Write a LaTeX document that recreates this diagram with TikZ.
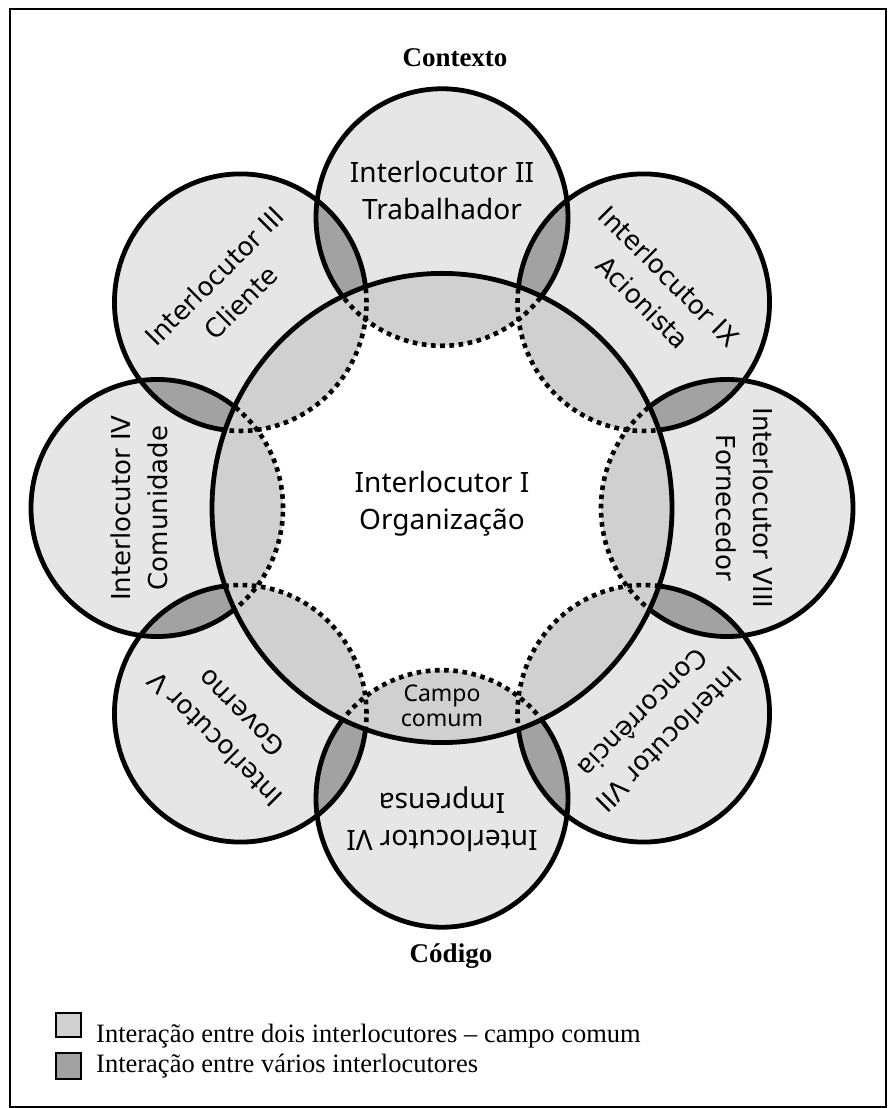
\documentclass[tikz,border=0pt]{standalone}
\usepackage{fontspec}
\setmainfont{Liberation Serif}
\newfontfamily\lblfont{Noto Sans}
\newfontfamily\widefont{DejaVu Sans}
\definecolor{outerfill}{HTML}{E6E6E6}
\definecolor{lensfill}{HTML}{D0D0D0}
\definecolor{darkfill}{HTML}{A2A2A2}
\begin{document}
\begin{tikzpicture}[x=1pt,y=1pt,
  ring/.style={line width=4.8pt},
  dotring/.style={line width=4.6pt, dash pattern=on 4.6pt off 4.6pt},
  lbl/.style={align=center, inner sep=0pt, font=\lblfont\fontsize{28}{37}\selectfont},
  lblw/.style={align=center, inner sep=0pt, font=\widefont\fontsize{26}{37}\selectfont},
  small/.style={align=center, inner sep=0pt, font=\lblfont\fontsize{23}{25}\selectfont},
  heading/.style={inner sep=0pt, anchor=base, font=\bfseries\fontsize{27}{30}\selectfont},
  legtext/.style={inner sep=0pt, anchor=base west, font=\fontsize{26.5}{30}\selectfont},
  legbox/.style={draw, line width=2.5pt}
]
\useasboundingbox (0,0) rectangle (887,1108);
\draw[line width=2pt] (10,1) rectangle (886,1099);

\begin{scope}[shift={(442,600)}, y=1.02pt]
  \def\R{230}
  \def\r{126}
  \def\d{285}
  % the eight partner circles
  \foreach \a in {0,45,...,315}
    \fill[outerfill] (\a:\d) circle[radius=\r];
  % overlaps of neighbouring partners
  \foreach \a in {0,45,...,315} {
    \begin{scope}
      \clip (\a:\d) circle[radius=\r];
      \fill[darkfill] (\a+45:\d) circle[radius=\r];
    \end{scope}
  }
  \foreach \a in {0,45,...,315}
    \draw[ring] (\a:\d) circle[radius=\r];
  % the organisation in the middle
  \fill[white] (0,0) circle[radius=\R];
  \begin{scope}
    \clip (0,0) circle[radius=\R];
    \foreach \a in {0,45,...,315}
      \fill[lensfill] (\a:\d) circle[radius=\r];
    \foreach \a in {0,45,...,315}
      \draw[dotring] (\a:\d) circle[radius=\r];
  \end{scope}
  \draw[ring] (0,0) circle[radius=\R];

  \node[lbl] (org) at (0,4) {Interlocutor I\\Organização};
  \node[small] (campo) at (0,-194) {Campo\\comum};
  \node[lbl, rotate=0]    (p2) at (90:\d+26)  {Interlocutor II\\Trabalhador};
  \node[lblw, rotate=45]  (p3) at (135:\d+18) {Interlocutor III\\Cliente};
  \node[lblw, rotate=90]  (p4) at (180:\d+18) {Interlocutor IV\\Comunidade};
  \node[lblw, rotate=135] (p5) at (225:\d+18) {Interlocutor V\\Governo};
  \node[lbl, rotate=180]  (p6) at (270:\d+20) {Interlocutor VI\\Imprensa};
  \node[lblw, rotate=225] (p7) at (315:\d+18) {Interlocutor VII\\Concorrência};
  \node[lblw, rotate=-90] (p8) at (0:\d+18)   {Interlocutor VIII\\Fornecedor};
  \node[lblw, rotate=-45] (p9) at (45:\d+18)  {Interlocutor IX\\Acionista};
\end{scope}

\node[heading] (ctx) at (455,1041) {Contexto};
\node[heading] (cod) at (451,145) {Código};

\filldraw[legbox, fill=lensfill] (56,71) rectangle (81,95);
\filldraw[legbox, fill=darkfill] (56,29) rectangle (81,55);
\node[legtext] (leg1) at (96,65) {Interação entre dois interlocutores – campo comum};
\node[legtext] (leg2) at (96,35) {Interação entre vários interlocutores};
\end{tikzpicture}
\end{document}
